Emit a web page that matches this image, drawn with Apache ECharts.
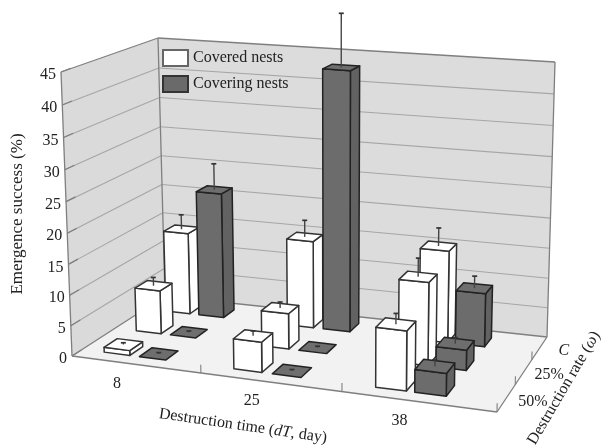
<!DOCTYPE html>
<html><head><meta charset="utf-8">
<style>html,body{margin:0;padding:0;background:#fff}#c{width:601px;height:445px}</style>
<script src="https://cdn.jsdelivr.net/npm/echarts@6/dist/echarts.min.js"></script>
</head><body><div id="c"></div>
<script>
// ---- data
const timeLabels = ['8', '25', '38'];
const rateLabels = ['50%', '25%', 'C'];
const valueTicks = [0, 5, 10, 15, 20, 25, 30, 35, 40, 45];
// one value per (time, rate): rows 50%, 25%, C
const coveredMean = [[0.8, 7.3, 14], [4.9, 5.9, 14.7], [9.5, 13.5, 15.3]];
const coveredErr  = [[0.3, 1.4, 2.5], [0.8, 1, 2.8], [1.7, 3, 3]];
const coveringMean = [[0, 0, 21.3], [0, 0, 43], [3.6, 3.3, 8.9]];
const coveringErr  = [[0.2, 0.2, 4.4], [0.2, 0.2, 8.5], [1, 1, 2]];

// ---- projection frame: floor quad (u right, v into the page) and rise of each corner at full height
function quad(p0,p1,p2,p3){
  const dx1=p1[0]-p2[0],dx2=p3[0]-p2[0],sx=p0[0]-p1[0]+p2[0]-p3[0];
  const dy1=p1[1]-p2[1],dy2=p3[1]-p2[1],sy=p0[1]-p1[1]+p2[1]-p3[1];
  const den=dx1*dy2-dx2*dy1;
  const g=(sx*dy2-dx2*sy)/den,i=(dx1*sy-sx*dy1)/den;
  const a=p1[0]-p0[0]+g*p1[0],b=p3[0]-p0[0]+i*p3[0],c=p0[0];
  const d=p1[1]-p0[1]+g*p1[1],e=p3[1]-p0[1]+i*p3[1],f=p0[1];
  return (u,v)=>{const w=g*u+i*v+1;return [(a*u+b*v+c)/w,(d*u+e*v+f)/w];};
}
const floorQ=quad([72,356],[497,412],[547,337],[165,296]);
const RISE={FL:[-11,-284],FR:[5,-303],BR:[8,-275],BL:[-7,-258]};
function P(u,v,h){
  const p=floorQ(u,v),t=h/(1+0.05*(1-h));
  const mix=k=>(1-v)*((1-u)*RISE.FL[k]+u*RISE.FR[k])+v*((1-u)*RISE.BL[k]+u*RISE.BR[k]);
  return [p[0]+mix(0)*t,p[1]+mix(1)*t];
}

// ---- hidden scale grid
const GRID=300;
const FONT='"Liberation Serif","Times New Roman",serif';
function toUH(api,x,y){const p=api.coord([x,y]);return [p[0]/GRID,(GRID-p[1])/GRID];}

const GRIDC='#a6a6a6', EDGE='#7f7f7f';
function line(p,q,col,w,z2){return {type:'line',shape:{x1:p[0],y1:p[1],x2:q[0],y2:q[1]},style:{stroke:col,lineWidth:w},z2,silent:true};}
function poly(pts,fill,stroke,w,z2){return {type:'polygon',shape:{points:pts},style:{fill,stroke,lineWidth:w,lineJoin:'round'},z2,silent:true};}
function txt(t,x,y,opt){opt=opt||{};return {type:'text',x,y,rotation:opt.rot||0,z2:9000,silent:true,
  style:{text:t,font:(opt.italic?'italic ':'')+(opt.size||16)+'px '+FONT,fill:'#222',textAlign:opt.align||'center',textVerticalAlign:'middle',rich:opt.rich}};}

function renderFrame(params,api){
  const ch=[];
  ch.push(poly([P(0,0,0),P(0,1,0),P(0,1,1),P(0,0,1)],'#dadada',null,0,-50));
  ch.push(poly([P(0,1,0),P(1,1,0),P(1,1,1),P(0,1,1)],'#dcdcdc',null,0,-50));
  ch.push(poly([P(0,0,0),P(1,0,0),P(1,1,0),P(0,1,0)],'#f2f2f2',null,0,-49));
  valueTicks.forEach(t=>{
    const h=toUH(api,0,t)[1];
    if(t>0&&t<45){
      ch.push(line(P(0,0,h),P(0,1,h),GRIDC,1.1,-40));
      ch.push(line(P(0,1,h),P(1,1,h),GRIDC,1.1,-40));
    }
    const q=P(0,0,h);
    ch.push(line(q,P(0,0.09,h),EDGE,1.2,-30));
    ch.push(txt(String(t),q[0]-5,q[1]+3,{align:'right'}));
  });
  const E=[[[0,0,0],[0,0,1]],[[0,0,1],[0,1,1]],[[0,1,0],[0,1,1]],[[0,1,1],[1,1,1]],[[1,1,0],[1,1,1]],
           [[0,0,0],[1,0,0]],[[1,0,0],[1,1,0]],[[0,0,0],[0,1,0]],[[0,1,0],[1,1,0]]];
  E.forEach(s=>ch.push(line(P(...s[0]),P(...s[1]),EDGE,1.3,-30)));
  timeLabels.forEach((t,i)=>{
    const u=toUH(api,i+0.5,0)[0];
    const q=P(u,0,0);
    ch.push(txt(t,q[0]-18,q[1]+19));
    if(i>0){const uu=toUH(api,i,0)[0];ch.push(line(P(uu,0,0),P(uu,0,0.03),EDGE,1.1,-30));}
  });
  rateLabels.forEach((t,i)=>{
    const q=P(1.055,(i+0.5)/3,0);
    ch.push(txt(t,q[0],q[1],{italic:t==='C'}));
    ch.push(line(P(1,i/3,0),P(1,i/3,0.03),EDGE,1.1,-30));
  });
  const rich={i:{font:'italic 16px '+FONT,fill:'#222'}};
  ch.push(txt('Emergence success (%)',18,214,{rot:Math.PI/2,size:17}));
  ch.push(txt('Destruction time ({i|dT}, day)',243,426,{rot:-0.145,rich}));
  ch.push(txt('Destruction rate ({i|\u03c9})',564,388,{rot:1.04,rich}));
  return {type:'group',children:ch};
}

const BW=0.205, BD=0.40; // bar footprint, in axis units / row units
function renderBar(colFace,colSide,colTop,stroke,off){
  return function(params,api){
    const tx=api.value(0), val=api.value(1), row=api.value(2), err=api.value(3), tIdx=api.value(4);
    const x0=tx-BW/2, x1=tx+BW/2;
    const u0=toUH(api,x0,0)[0], u1=toUH(api,x1,0)[0], um=toUH(api,tx,0)[0];
    const v0=(row+0.5-BD/2)/3, v1=(row+0.5+BD/2)/3, vm=(v0+v1)/2;
    const h=toUH(api,0,val)[1], hE=toUH(api,0,val+err)[1];
    const base=(2-row)*1000+(tIdx*2+off)*10+1000; // far rows first, then left to right
    const ch=[];
    const top=[P(u0,v0,h),P(u1,v0,h),P(u1,v1,h),P(u0,v1,h)];
    if(val>0.5){
      ch.push(poly([P(u1,v0,0),P(u1,v1,0),P(u1,v1,h),P(u1,v0,h)],colSide,stroke,1.5,base+1));
      ch.push(poly([P(u0,v0,0),P(u1,v0,0),P(u1,v0,h),P(u0,v0,h)],colFace,stroke,1.5,base+2));
    }
    ch.push(poly(top,colTop,stroke,1.5,base+3));
    const s=P(um,vm,h), t=P(um,vm,hE);
    ch.push(line(s,t,'#444',1.4,base+4));
    ch.push(line([t[0]-2.5,t[1]],[t[0]+2.5,t[1]],'#333',1.7,base+4));
    return {type:'group',children:ch};
  };
}
function rows(mean,err,offs){
  const out=[];
  mean.forEach((r,t)=>r.forEach((v,k)=>out.push([t+offs[t],v,k,err[t][k],t])));
  return out;
}

const chart=echarts.init(document.getElementById('c'),null,{renderer:'canvas'});
chart.setOption({
  animation:false,
  backgroundColor:'#fff',
  grid:{left:0,top:0,width:GRID,height:GRID,show:false},
  xAxis:{type:'value',min:0,max:3,show:false},
  yAxis:{type:'value',min:0,max:45,interval:5,show:false},
  tooltip:{show:false},
  legend:{orient:'vertical',left:162,top:49,itemWidth:25,itemHeight:16,itemGap:8,padding:0,
    data:[{name:'Covered nests',icon:'rect'},{name:'Covering nests',icon:'rect'}],
    textStyle:{fontFamily:FONT,fontSize:16,color:'#222'},selectedMode:false,zlevel:1},
  series:[
   {type:'custom',name:'frame',coordinateSystem:'cartesian2d',data:[[0,0]],renderItem:renderFrame,clip:false,silent:true},
   {type:'custom',name:'Covered nests',coordinateSystem:'cartesian2d',clip:false,silent:true,
    itemStyle:{color:'#ffffff',borderColor:'#666',borderWidth:1.5},
    encode:{x:0,y:1},data:rows(coveredMean,coveredErr,[0.28,0.28,0.28]),
    renderItem:renderBar('#fff','#fff','#fff','#333',0)},
   {type:'custom',name:'Covering nests',coordinateSystem:'cartesian2d',clip:false,silent:true,
    itemStyle:{color:'#6a6a6a',borderColor:'#333',borderWidth:1.5},
    encode:{x:0,y:1},data:rows(coveringMean,coveringErr,[0.56,0.56,0.54]),
    renderItem:renderBar('#6c6c6c','#626262','#6e6e6e','#222',1)}
  ]
});
</script></body></html>
